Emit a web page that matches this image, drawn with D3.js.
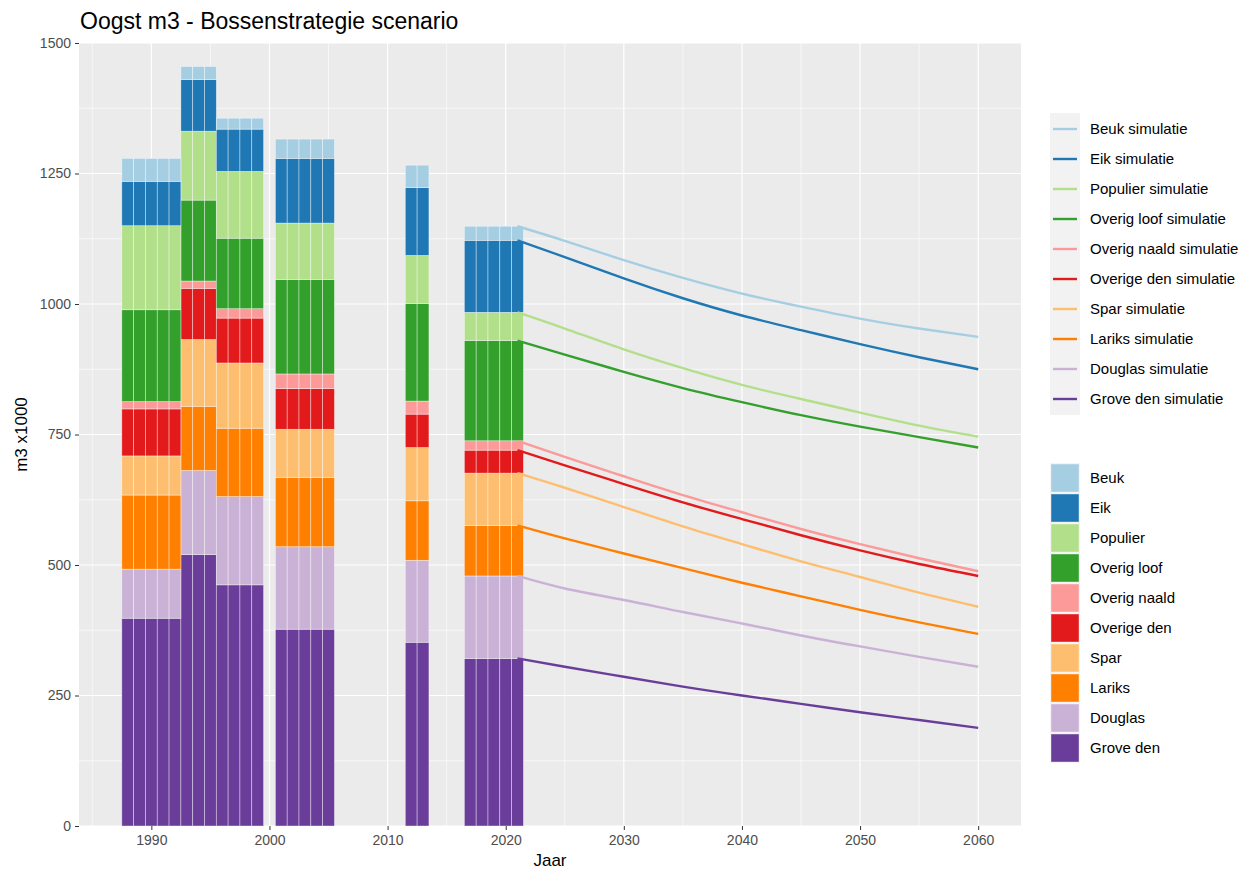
<!DOCTYPE html>
<html><head><meta charset="utf-8">
<script src="https://cdn.jsdelivr.net/npm/d3@7"></script>
<style>
body{margin:0;background:#fff;}
text{font-family:"Liberation Sans",Arial,sans-serif;}
</style></head>
<body><svg id="chart" width="1240" height="872"></svg>
<script>
// ---------- DATA ----------
const species = ["Beuk","Eik","Populier","Overig loof","Overig naald","Overige den","Spar","Lariks","Douglas","Grove den"];
const colors = ["#A6CEE3","#1F78B4","#B2DF8A","#33A02C","#FB9A99","#E31A1C","#FDBF6F","#FF7F00","#CAB2D6","#6A3D9A"];
const barYears = [1988,1989,1990,1991,1992,1993,1994,1995,1996,1997,1998,1999,2001,2002,2003,2004,2005,2012,2013,2017,2018,2019,2020,2021];
// harvest per species per bar year (m3 x1000)
const grovDen     = [398,398,398,398,398,520,520,520,462,462,462,462,377,377,377,377,377,352,352,321,321,321,321,321];
const douglas     = [94,94,94,94,94,161,161,161,169,169,169,169,158,158,158,158,158,157,157,158,158,158,158,158];
const lariks      = [142,142,142,142,142,123,123,123,131,131,131,131,133,133,133,133,133,114,114,97,97,97,97,97];
const spar        = [75,75,75,75,75,128,128,128,125,125,125,125,92,92,92,92,92,102,102,100,100,100,100,100];
const overigeDen  = [90,90,90,90,90,98,98,98,86,86,86,86,78,78,78,78,78,64,64,44,44,44,44,44];
const overigNaald = [14,14,14,14,14,14,14,14,18,18,18,18,28,28,28,28,28,25,25,18,18,18,18,18];
const overigLoof  = [176,176,176,176,176,155,155,155,135,135,135,135,181,181,181,181,181,187,187,192,192,192,192,192];
const populier    = [161,161,161,161,161,132,132,132,128,128,128,128,108,108,108,108,108,92,92,54,54,54,54,54];
const eik         = [85,85,85,85,85,99,99,99,81,81,81,81,124,124,124,124,124,130,130,138,138,138,138,138];
const beuk        = [44,44,44,44,44,25,25,25,21,21,21,21,37,37,37,37,37,43,43,27,27,27,27,27];

// simulation lines (stacked level, m3 x1000)
const simYears = [2021,2025,2030,2035,2040,2045,2050,2055,2060];
const simBeuk        = [1149,1121,1084,1050,1020,995,972,953,937];
const simEik         = [1122,1090,1049,1011,978,950,923,898,875];
const simPopulier    = [984,953,913,877,845,818,792,767,746];
const simOverigLoof  = [930,903,870,839,812,787,765,745,725];
const simOverigNaald = [738,707,670,634,601,569,540,513,488];
const simOverigeDen  = [720,691,655,620,588,557,528,502,479];
const simSpar        = [676,648,611,574,540,507,477,447,420];
const simLariks      = [576,551,522,494,466,440,414,390,368];
const simDouglas     = [479,455,433,410,388,365,344,324,305];
const simGroveDen    = [321,305,286,267,250,234,218,203,188];

const xTicks = [1990,2000,2010,2020,2030,2040,2050,2060];
const yTicks = [0,250,500,750,1000,1250,1500];
const titleText = "Oogst m3 - Bossenstrategie scenario";

// ---------- CHART ----------
const svg = d3.select("#chart");
const L=79,R=1021,T=43,B=826;
const x = d3.scaleLinear().domain([1983.875,2063.625]).range([L,R]);
const y = d3.scaleLinear().domain([0,1500]).range([B,T]);
const color = d3.scaleOrdinal().domain(species).range(colors);

svg.append("rect").attr("x",L).attr("y",T).attr("width",R-L).attr("height",B-T).attr("fill","#EBEBEB");

// minor grid
const gMinor = svg.append("g");
d3.range(1985,2063,10).forEach(v=>gMinor.append("line").attr("x1",x(v)).attr("x2",x(v)).attr("y1",T).attr("y2",B));
d3.range(125,1500,250).forEach(v=>gMinor.append("line").attr("x1",L).attr("x2",R).attr("y1",y(v)).attr("y2",y(v)));
gMinor.selectAll("line").attr("stroke","#fff").attr("stroke-width",0.6);
const gMajor = svg.append("g");
xTicks.forEach(v=>gMajor.append("line").attr("x1",x(v)).attr("x2",x(v)).attr("y1",T).attr("y2",B));
yTicks.forEach(v=>gMajor.append("line").attr("x1",L).attr("x2",R).attr("y1",y(v)).attr("y2",y(v)));
gMajor.selectAll("line").attr("stroke","#fff").attr("stroke-width",1.2);

// bars (stack from bottom: Grove den first)
const barSeries = {"Grove den":grovDen,"Douglas":douglas,"Lariks":lariks,"Spar":spar,"Overige den":overigeDen,
  "Overig naald":overigNaald,"Overig loof":overigLoof,"Populier":populier,"Eik":eik,"Beuk":beuk};
const stackOrder = species.slice().reverse();
const rows = barYears.map((yr,i)=>{const r={year:yr}; stackOrder.forEach(s=>r[s]=barSeries[s][i]); return r;});
const stacked = d3.stack().keys(stackOrder)(rows);
const gBars = svg.append("g");
stacked.forEach(layer=>{
  gBars.selectAll(null).data(layer).enter().append("rect")
    .attr("x",d=>x(d.data.year-0.5)).attr("width",d=>x(d.data.year+0.5)-x(d.data.year-0.5))
    .attr("y",d=>y(d[1])).attr("height",d=>y(d[0])-y(d[1]))
    .attr("fill",color(layer.key)).attr("stroke","#fff").attr("stroke-opacity",0.55).attr("stroke-width",0.7);
});

// lines
const simSeries = [simBeuk,simEik,simPopulier,simOverigLoof,simOverigNaald,simOverigeDen,simSpar,simLariks,simDouglas,simGroveDen];
const line = d3.line().x(d=>x(d[0])).y(d=>y(d[1])).curve(d3.curveNatural);
simSeries.slice().reverse().forEach((vals,ri)=>{
  const i = simSeries.length-1-ri;
  svg.append("path").attr("d",line(simYears.map((yr,j)=>[yr,vals[j]])))
    .attr("fill","none").attr("stroke",colors[i]).attr("stroke-width",2.4);
});

// axes
const xAxis = svg.append("g").attr("transform",`translate(0,${B})`)
  .call(d3.axisBottom(x).tickValues(xTicks).tickFormat(d3.format("d")).tickSize(4).tickPadding(5));
const yAxis = svg.append("g").attr("transform",`translate(${L},0)`)
  .call(d3.axisLeft(y).tickValues(yTicks).tickFormat(d3.format("d")).tickSize(4).tickPadding(4));
[xAxis,yAxis].forEach(a=>{
  a.select(".domain").remove();
  a.selectAll(".tick line").attr("stroke","#333").attr("stroke-width",1);
  a.selectAll(".tick text").attr("fill","#4D4D4D").style("font-size","14px");
});

svg.append("text").attr("x",(L+R)/2).attr("y",866).attr("text-anchor","middle").style("font-size","17px").attr("fill","#000").text("Jaar");
svg.append("text").attr("transform",`translate(27,${(T+B)/2}) rotate(-90)`).attr("text-anchor","middle").style("font-size","17px").attr("fill","#000").text("m3 x1000");
svg.append("text").attr("x",80).attr("y",29).style("font-size","23px").attr("fill","#000").text(titleText);

// legend 1: lines
const lg1 = svg.append("g");
lg1.append("rect").attr("x",1050).attr("y",113).attr("width",30).attr("height",302).attr("fill","#F2F2F2");
species.forEach((s,i)=>{
  const cy = 129 + i*30;
  lg1.append("line").attr("x1",1053).attr("x2",1077).attr("y1",cy).attr("y2",cy).attr("stroke",colors[i]).attr("stroke-width",2.4);
  lg1.append("text").attr("x",1090).attr("y",cy).attr("dy","0.36em").style("font-size","15px").attr("fill","#000").text(s+" simulatie");
});
// legend 2: fills
const lg2 = svg.append("g");
species.forEach((s,i)=>{
  const cy = 478 + i*30;
  lg2.append("rect").attr("x",1050).attr("y",cy-15).attr("width",30).attr("height",30).attr("fill","#F2F2F2");
  lg2.append("rect").attr("x",1051).attr("y",cy-14).attr("width",28).attr("height",28).attr("fill",colors[i]).attr("stroke","#fff").attr("stroke-opacity",0.55).attr("stroke-width",0.7);
  lg2.append("text").attr("x",1090).attr("y",cy).attr("dy","0.36em").style("font-size","15px").attr("fill","#000").text(s);
});
</script></body></html>
